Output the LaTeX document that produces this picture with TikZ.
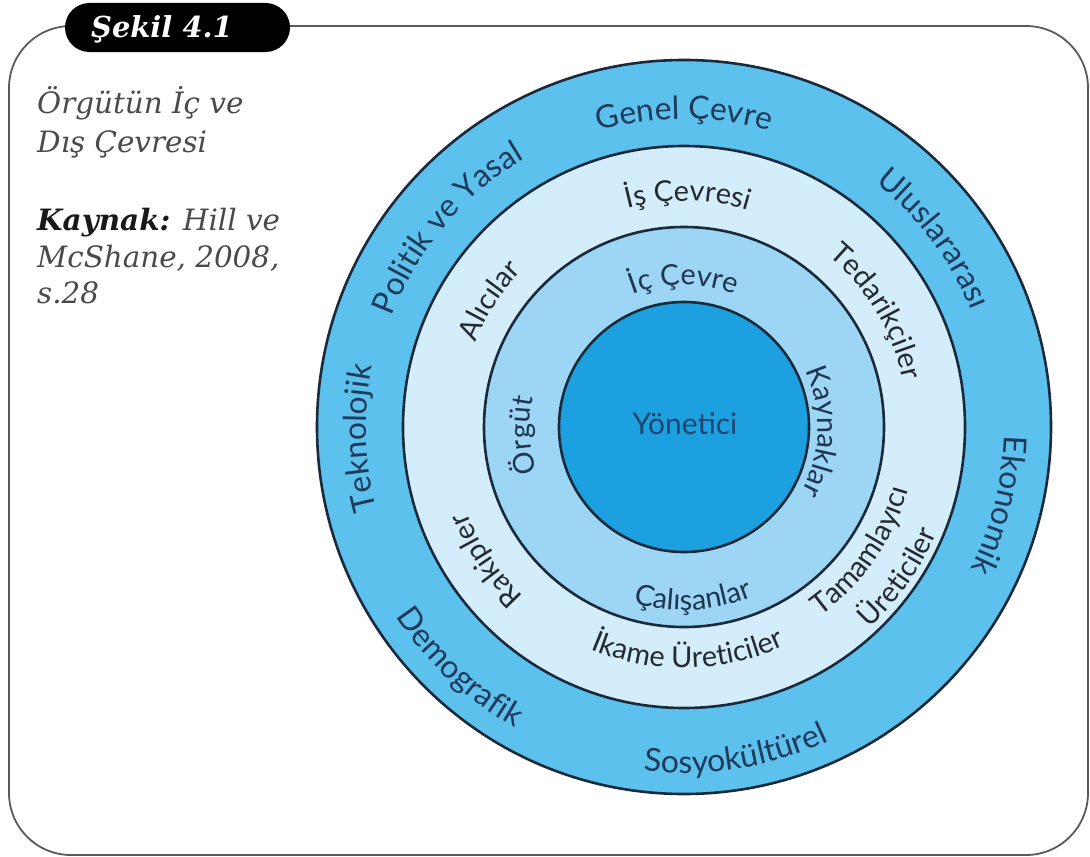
\documentclass[tikz,border=0pt]{standalone}
\usepackage{fontspec}
\setmainfont{DejaVu Serif}
\newfontfamily\gs{Lato}
\newfontfamily\bk{DejaVu Serif}
\usetikzlibrary{decorations.text,calc}
\definecolor{ringA}{HTML}{5DC1EE}
\definecolor{ringB}{HTML}{D3EDFB}
\definecolor{ringC}{HTML}{9DD6F4}
\definecolor{ringD}{HTML}{1CA0DF}
\definecolor{edgecol}{HTML}{1B2A3A}
\definecolor{txtA}{HTML}{1F3A5A}
\definecolor{txtB}{HTML}{262A30}
\definecolor{txtC}{HTML}{1F3550}
\definecolor{txtD}{HTML}{1F4570}
\definecolor{framecol}{HTML}{5A5A5A}
\definecolor{leftgray}{HTML}{4A4A4A}
\newcommand\fA{\gs\fontsize{32}{36}\selectfont\color{txtA}}
\newcommand\fB{\gs\fontsize{29}{34}\selectfont\color{txtB}}
\newcommand\fC{\gs\fontsize{29}{34}\selectfont\color{txtC}}
% clockwise label: angle, radius, halfspan, format, text
\newcommand\cwtext[5]{%
  \path[decorate, decoration={text along path, text align=center, text={|#4|#5}}]
    ($(c)+({#1+#3}:#2 bp)$) arc[start angle={#1+#3}, end angle={#1-#3}, radius=#2 bp];}
\newcommand\ccwtext[5]{%
  \path[decorate, decoration={text along path, text align=center, text={|#4|#5}}]
    ($(c)+({#1-#3}:#2 bp)$) arc[start angle={#1-#3}, end angle={#1+#3}, radius=#2 bp];}
\begin{document}
\begin{tikzpicture}[x=1bp,y=1bp,
  ring/.style={draw=edgecol, line width=2.6bp},
  lefttxt/.style={font=\bk\itshape\fontsize{29.5}{34}\selectfont, text=leftgray, inner sep=0pt, anchor=base west}]
\useasboundingbox (0,0) rectangle (1090,-857);
\fill[white] (0,0) rectangle (1090,-857);
% frame
\draw[framecol, line width=1.8bp, rounded corners=62bp] (9,-855) rectangle (1088,-26);
% title pill
\node[fill=black, rounded corners=24.5bp, minimum width=225bp, minimum height=49bp, inner sep=0pt] (pill) at (177.5,-27.5) {};
\node[text=white, font=\bk\bfseries\itshape\fontsize{29}{34}\selectfont, anchor=base, inner sep=0pt] (sekil) at (162,-37) {Şekil 4.1};
% left texts
\node[lefttxt] (t1) at (37,-113) {Örgütün İç ve};
\node[lefttxt] (t2) at (37,-152) {Dış Çevresi};
\node[lefttxt] (t3) at (37,-230) {{\bfseries\color{black!90}Kaynak:} Hill ve};
\node[lefttxt] (t4) at (37,-267) {McShane, 2008,};
\node[lefttxt] (t5) at (37,-303) {s.28};
% circles
\coordinate (c) at (684,-427);
\filldraw[ring, fill=ringA] (c) circle[radius=367bp];
\filldraw[ring, fill=ringB] (c) circle[radius=281bp];
\filldraw[ring, fill=ringC] (c) circle[radius=200bp];
\filldraw[ring, fill=ringD] (c) circle[radius=125bp];
\node[font=\gs\fontsize{30}{36}\selectfont, text=txtD] (yon) at (685,-424) {Yönetici};
% ring 1 labels
\cwtext{90}{308}{40}{\fA}{Genel Çevre}
\cwtext{140}{312}{40}{\fA}{Politik ve Yasal}
\cwtext{182}{318}{40}{\fA}{Teknolojik}
\cwtext{37}{310}{40}{\fA}{Uluslararası}
\cwtext{-14}{320}{40}{\fA}{Ekonomik}
\ccwtext{-81}{346}{40}{\fA}{Sosyokültürel}
\ccwtext{227}{345}{40}{\fA}{Demografik}
% ring 2 labels
\cwtext{89}{226}{50}{\fB}{İş Çevresi}
\cwtext{147}{225}{50}{\fB}{Alıcılar}
\cwtext{31}{224}{50}{\fB}{Tedarikçiler}
\ccwtext{-35}{233}{50}{\fB}{Tamamlayıcı}
\ccwtext{-35}{274}{50}{\fB}{Üreticiler}
\ccwtext{-89}{241}{50}{\fB}{İkame Üreticiler}
\cwtext{214}{233}{50}{\fB}{Rakipler}
% ring 3 labels
\cwtext{90}{142}{70}{\fC}{İç Çevre}
\cwtext{183}{154}{70}{\fC}{Örgüt}
\cwtext{-2}{134}{70}{\fC}{Kaynaklar}
\ccwtext{-87}{183}{70}{\fC}{Çalışanlar}
\end{tikzpicture}
\end{document}
